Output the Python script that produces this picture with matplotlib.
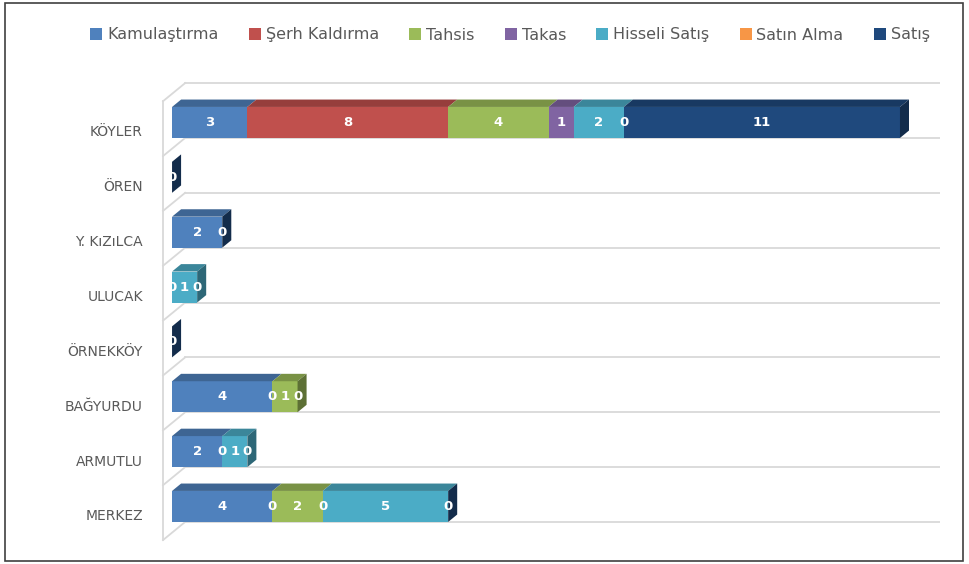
import numpy as np
import matplotlib.pyplot as plt
from matplotlib.patches import Polygon, Rectangle, Patch
from matplotlib.colors import to_rgb

# bottom to top, as drawn
categories = ["MERKEZ", "ARMUTLU", "BAĞYURDU", "ÖRNEKKÖY", "ULUCAK", "Y. KıZıLCA", "ÖREN", "KÖYLER"]
series_names = ["Kamulaştırma", "Şerh Kaldırma", "Tahsis", "Takas", "Hisseli Satış", "Satın Alma", "Satış"]

# None = no value in the sheet (no label), 0 = zero with a label
kamulastirma = [4, 2, 4, None, None, 2, None, 3]
serh_kaldirma = [0, None, 0, None, None, None, None, 8]
tahsis = [2, None, 1, None, None, None, None, 4]
takas = [0, 0, 0, None, 0, None, None, 1]
hisseli_satis = [5, 1, None, None, 1, None, None, 2]
satin_alma = [None, 0, None, None, 0, None, None, 0]
satis = [0, None, None, 0, None, 0, 0, 11]

series = [kamulastirma, serh_kaldirma, tahsis, takas, hisseli_satis, satin_alma, satis]
colors = ["#4F81BD", "#C0504D", "#9BBB59", "#8064A2", "#4BACC6", "#F79646", "#1F497D"]

def shade(c, f):
    r, g, b = to_rgb(c)
    return (r * f, g * f, b * f)

fig = plt.figure(figsize=(9.69, 5.64), dpi=100)
ax = fig.add_axes([0.1646, 0.0043, 0.8056, 0.8851])
ax.set_xlim(-0.5, 30.6)
ax.set_ylim(-0.85, 8.25)

# walls / gridlines (pseudo 3d)
grid_c = "#d9d9d9"
for k in range(len(categories) + 1):
    g = k - 0.128
    ax.plot([0.52, 30.6], [g, g], color=grid_c, lw=1.3, zorder=0)
    ax.plot([-0.36, 0.52], [g - 0.33, g], color=grid_c, lw=1.3, zorder=0)
ax.plot([-0.36, -0.36], [-0.458, 7.54], color=grid_c, lw=1.3, zorder=0)

bh = 0.565   # front face height
dx, dy = 0.36, 0.135   # depth offset
for i, cat in enumerate(categories):
    yc = i + 0.155
    bottom, top = yc - bh / 2, yc + bh / 2
    left = 0
    cap = None
    for s, vals in enumerate(series):
        v = vals[i]
        if v is None:
            continue
        ax.barh(yc, v, left=left, height=bh, color=colors[s], edgecolor="none", zorder=2)
        if v > 0:
            ax.add_patch(Polygon([(left, top), (left + v, top), (left + v + dx, top + dy), (left + dx, top + dy)],
                                 closed=True, fc=shade(colors[s], 0.78), ec="none", zorder=2))
        if v > 0 or s == len(series) - 1:
            cap = colors[s]
        left += v
    if cap is not None:
        ax.add_patch(Polygon([(left, bottom), (left, top), (left + dx, top + dy), (left + dx, bottom + dy)],
                             closed=True, fc=shade(cap, 0.6), ec="none", zorder=3))
    # value labels
    left = 0
    for s, vals in enumerate(series):
        v = vals[i]
        if v is None:
            continue
        ax.text(left + v / 2, yc, str(v), ha="center", va="center", color="white",
                fontsize=9.5, fontweight="bold", zorder=4)
        left += v

ax.set_yticks(np.arange(len(categories)))
ax.set_yticklabels(categories, color="#595959", fontsize=10)
ax.tick_params(axis="y", length=0, pad=12)
ax.set_xticks([])
for sp in ax.spines.values():
    sp.set_visible(False)
ax.patch.set_alpha(0)

handles = [Patch(fc=c, ec="none") for c in colors]
fig.legend(handles, series_names, loc="center", bbox_to_anchor=(510 / 969, 1 - 35 / 564), ncol=7,
           frameon=False, handlelength=0.75, handleheight=0.75, handletextpad=0.3, columnspacing=1.9,
           fontsize=11.5, labelcolor="#595959")

fig.add_artist(Rectangle((5 / 969, 3 / 564), 958 / 969, 558 / 564, transform=fig.transFigure,
                         fill=False, ec="#404040", lw=1.2))

plt.savefig("out.png", dpi=100)
